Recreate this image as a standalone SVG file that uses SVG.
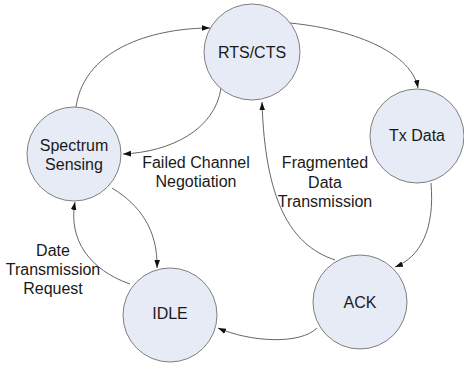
<svg xmlns="http://www.w3.org/2000/svg" width="464" height="369" viewBox="0 0 464 369">
<style>
.node{fill:#E6EBF6;stroke:#7F7F7F;stroke-width:1}
.lbl{font-family:"Liberation Sans",Arial,sans-serif;font-size:16px;fill:#1A1A1A;text-anchor:middle}
.edge{fill:none;stroke:#666;stroke-width:1;marker-end:url(#arr)}
</style>
<defs>
<marker id="arr" viewBox="0 0 10 10" refX="10" refY="5" markerWidth="8" markerHeight="8" markerUnits="userSpaceOnUse" orient="auto">
<path d="M0,1.5 L10,5 L0,8.5 z" fill="#111"/>
</marker>
</defs>
<rect width="464" height="369" fill="#fff"/>
<g id="connectors">
<path class="edge" d="M76,107 C85,45 160,28 210,28"/>
<path class="edge" d="M290,23 C360,30 412,55 418,88"/>
<path class="edge" d="M221,88 C215,130 170,152 123,154"/>
<path class="edge" d="M112,188 C140,205 158,230 157,268"/>
<path class="edge" d="M130,284 C90,270 68,240 75,202"/>
<path class="edge" d="M317,328 C300,345 250,342 218,328"/>
<path class="edge" d="M431,183 C435,230 420,257 395,267"/>
<path class="edge" d="M335,260 C290,245 265,200 262,102"/>
</g>
<g id="rts">
<circle class="node" cx="252" cy="52" r="48"/>
<text class="lbl" x="252" y="58">RTS/CTS</text>
</g>
<g id="txdata">
<circle class="node" cx="417" cy="136" r="47"/>
<text class="lbl" x="417" y="141">Tx Data</text>
</g>
<g id="spectrum">
<circle class="node" cx="74" cy="154" r="47"/>
<text class="lbl" x="74" y="151">Spectrum</text>
<text class="lbl" x="74" y="170">Sensing</text>
</g>
<g id="idle">
<circle class="node" cx="170" cy="315" r="47"/>
<text class="lbl" x="170" y="319">IDLE</text>
</g>
<g id="ack">
<circle class="node" cx="360" cy="302" r="47"/>
<text class="lbl" x="360" y="308">ACK</text>
</g>
<g id="labels">
<text class="lbl" x="196" y="168">Failed Channel</text>
<text class="lbl" x="196" y="187">Negotiation</text>
<text class="lbl" x="325" y="168">Fragmented</text>
<text class="lbl" x="325" y="188">Data</text>
<text class="lbl" x="325" y="207">Transmission</text>
<text class="lbl" x="53" y="256">Date</text>
<text class="lbl" x="53" y="275">Transmission</text>
<text class="lbl" x="53" y="294">Request</text>
</g>
</svg>
